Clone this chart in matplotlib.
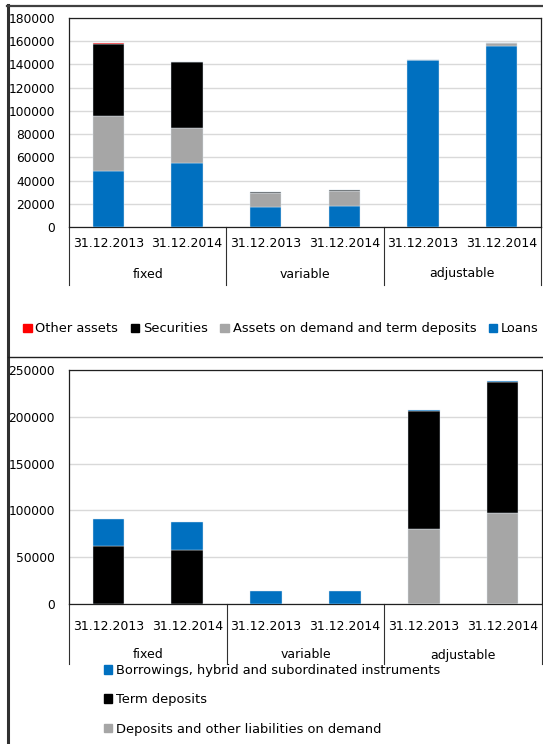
import numpy as np
import matplotlib as mpl; mpl.use("Agg")
import matplotlib.pyplot as plt
from matplotlib.lines import Line2D
from matplotlib.patches import Patch
from matplotlib import transforms

W, H = 543, 744
FONT = 9.0
LEG_FONT = 9.4

DATES = ["31.12.2013", "31.12.2014"] * 3
GROUPS = ["fixed", "variable", "adjustable"]

# ── assets (top panel), stacked bottom → top ─────────────────────────────────
LOANS      = [48000, 55000, 17500, 18400, 144200, 155600]
ON_DEMAND  = [47300, 30600, 11800, 12900,      0,   2600]
SECURITIES = [62400, 56600,   700,   300,      0,      0]
OTHER      = [  500,   300,   200,   200,      0,    300]

# ── liabilities (bottom panel), stacked bottom → top ─────────────────────────
DEP_DEMAND = [  500,   500,     0,     0,  80500,  97600]
TERM_DEP   = [61900, 57200,     0,     0, 125900, 139800]
BORROWINGS = [28800, 30000, 13500, 13500,    500,    500]

BLUE, GREY, BLACK, RED = "#0070c0", "#a6a6a6", "#000000", "#ff0000"

fig = plt.figure(figsize=(W / 100, H / 100), dpi=100)
fig.patch.set_facecolor("white")


def px_axes(l, t, r, b):
    return fig.add_axes([l / W, 1 - b / H, (r - l) / W, (b - t) / H])


def fy(y):
    return 1 - y / H


def draw_panel(ax, series, colors, ymax, ystep, date_y, group_y, sep_y):
    x = np.arange(len(DATES))
    bottom = np.zeros(len(DATES))
    for vals, c in zip(series, colors):
        vals = np.array(vals, dtype=float)
        ax.bar(x, vals, 0.4, bottom=bottom, color=c, edgecolor="#dde6ee",
               lw=0.3, zorder=3)
        bottom += vals
    ax.set_xlim(-0.5, 5.5)
    ax.set_ylim(0, ymax)
    ax.set_yticks(np.arange(0, ymax + 1, ystep))
    ax.set_xticks([])
    ax.grid(axis="y", color="#d9d9d9", lw=1.0)
    ax.set_axisbelow(True)
    ax.tick_params(axis="y", length=0, labelsize=8.8, pad=10)
    for s in ax.spines.values():
        s.set_color("#202020")
        s.set_linewidth(0.9)

    tr = transforms.blended_transform_factory(ax.transData, fig.transFigure)
    for i, d in enumerate(DATES):
        ax.text(i, fy(date_y), d, transform=tr, ha="center", va="center",
                fontsize=FONT)
    for g, name in enumerate(GROUPS):
        ax.text(2 * g + 0.5, fy(group_y), name, transform=tr, ha="center",
                va="center", fontsize=FONT)
    ax_bottom = ax.get_position().y0
    for xs in [-0.5, 1.5, 3.5, 5.5]:
        ax.add_artist(Line2D([xs, xs], [ax_bottom, fy(sep_y)], transform=tr,
                             color="#303030", lw=0.8, clip_on=False))


# ── top panel ────────────────────────────────────────────────────────────────
ax1 = px_axes(69, 18, 541, 227)
draw_panel(ax1, [LOANS, ON_DEMAND, SECURITIES, OTHER],
           [BLUE, GREY, BLACK, RED], 180000, 20000, 243, 274, 285)

h1 = [Patch(color=RED), Patch(color=BLACK), Patch(color=GREY), Patch(color=BLUE)]
l1 = ["Other assets", "Securities", "Assets on demand and term deposits", "Loans"]
fig.legend(h1, l1, loc="center", bbox_to_anchor=(281 / W, fy(329)), ncol=4,
           frameon=False, fontsize=LEG_FONT, handlelength=0.65, handleheight=0.65,
           handletextpad=0.3, columnspacing=0.95, borderpad=0, borderaxespad=0)

# ── bottom panel ─────────────────────────────────────────────────────────────
ax2 = px_axes(69, 370, 542, 604)
draw_panel(ax2, [DEP_DEMAND, TERM_DEP, BORROWINGS],
           [GREY, BLACK, BLUE], 250000, 50000, 627, 655, 664)

h2 = [Patch(color=BLUE), Patch(color=BLACK), Patch(color=GREY)]
l2 = ["Borrowings, hybrid and subordinated instruments", "Term deposits",
      "Deposits and other liabilities on demand"]
fig.legend(h2, l2, loc="upper left", bbox_to_anchor=(104 / W, fy(664)), ncol=1,
           frameon=False, fontsize=LEG_FONT, handlelength=0.65, handleheight=0.65,
           handletextpad=0.3, labelspacing=1.25, borderpad=0, borderaxespad=0)

# ── frame lines ──────────────────────────────────────────────────────────────
fig.add_artist(Line2D([8 / W, 8 / W], [fy(5), 0], transform=fig.transFigure,
                      color="#303030", lw=2.2))
fig.add_artist(Line2D([7 / W, 1], [fy(6), fy(6)], transform=fig.transFigure,
                      color="#404040", lw=1.6))
fig.add_artist(Line2D([8 / W, 1], [fy(357), fy(357)], transform=fig.transFigure,
                      color="#202020", lw=1.0))

fig.savefig("out.png", dpi=100, facecolor="white")
